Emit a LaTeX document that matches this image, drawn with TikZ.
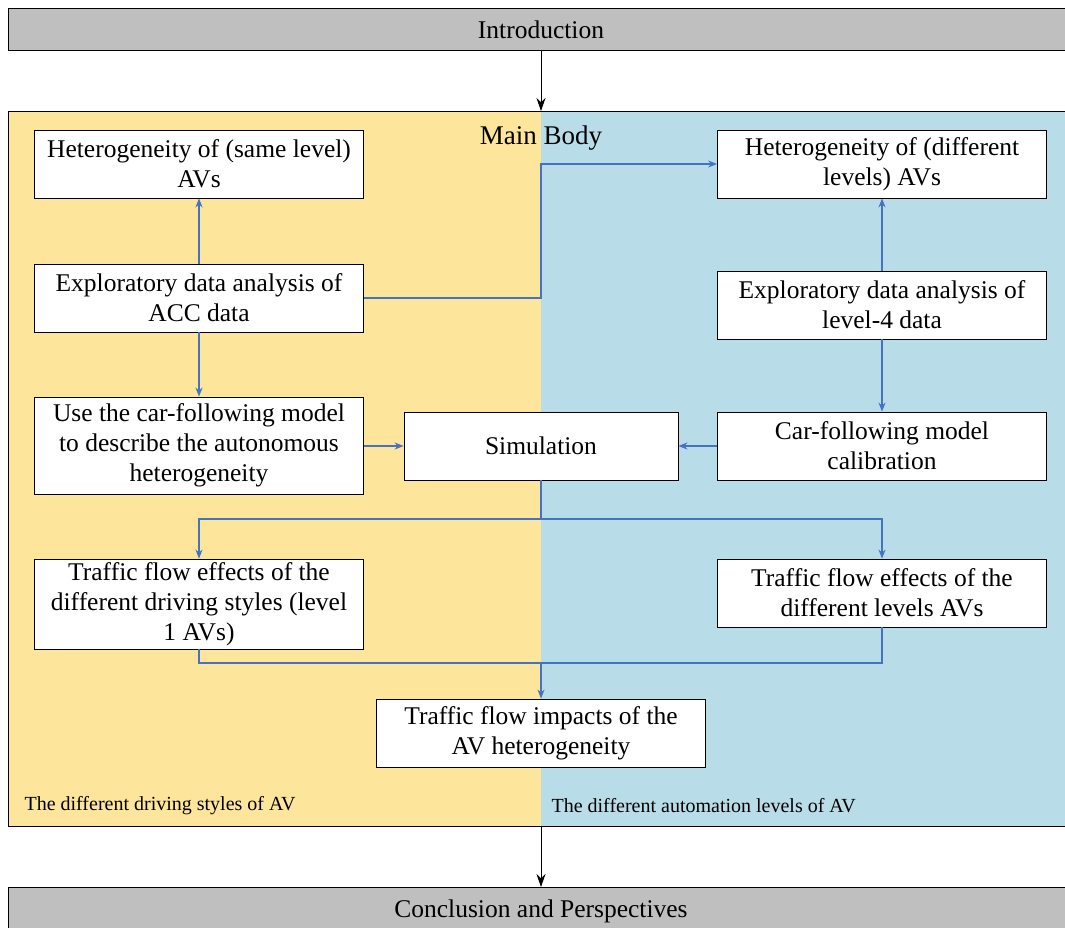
\documentclass[tikz,border=0pt]{standalone}
\usepackage{fontspec}
\setmainfont{Liberation Serif}
\usepackage{xcolor}
\usetikzlibrary{calc}
\usetikzlibrary{arrows.meta}
\definecolor{leftyellow}{RGB}{253,229,155}
\definecolor{rightblue}{RGB}{185,221,232}
\definecolor{bargray}{RGB}{191,191,191}
\definecolor{linkblue}{RGB}{68,114,196}
\tikzset{
  bar/.style={draw=black, thick, fill=bargray, inner sep=0},
  stagebox/.style={draw=black, thick, fill=white, inner sep=0, minimum width=329, align=center, font=\fontsize{25.5}{30}\selectfont},
  link/.style={linkblue, line width=1.8pt, -{Stealth[length=9pt,width=7pt]}},
  plain/.style={linkblue, line width=1.8pt},
  mainarrow/.style={black, thick, -{Stealth[length=13pt,width=9pt]}}
}

\begin{document}
\begin{tikzpicture}[x=1pt, y=-1pt]
\useasboundingbox (0,0) rectangle (1065,928);
% main body background
\fill[leftyellow] (8,111) rectangle (541,826);
\fill[rightblue] (541,111) rectangle (1065,826);
\draw[black,thick] (1066,111) -- (8,111) -- (8,826) -- (1066,826);
\node[font=\fontsize{27}{30}\selectfont] (mainbody) at (541,138) {Main Body};
\node[anchor=west, font=\fontsize{20}{24}\selectfont] (leftlabel) at (21,806) {The different driving styles of AV};
\node[anchor=west, font=\fontsize{20}{24}\selectfont] (rightlabel) at (548,806) {The different automation levels of AV};
% top and bottom bars
\node[bar, minimum width=1060, minimum height=42, anchor=north west] (intro) at (8,8) {};
\node (introtext) at (541,30) {\fontsize{25.5}{30}\selectfont Introduction};
\node[bar, minimum width=1060, minimum height=42, anchor=north west] (concl) at (8,887) {};
\node (concltext) at (541,911) {\fontsize{25.5}{30}\selectfont Conclusion and Perspectives};
\draw[mainarrow] (541,50) -- (541,111);
\draw[mainarrow] (541,826) -- (541,887);
% left column
\node[stagebox, minimum height=68] (samelevel) at (199,164) {Heterogeneity of (same level)\\AVs};
\node[stagebox, minimum height=68] (accdata) at (199,298) {Exploratory data analysis of\\ACC data};
\node[stagebox, minimum height=97] (cfmodel) at (199,445.5) {Use the car-following model\\to describe the autonomous\\heterogeneity};
\node[stagebox, minimum height=90] (styles) at (199,604) {Traffic flow effects of the\\different driving styles (level\\1 AVs)};
% right column
\node[stagebox, minimum height=68] (difflevel) at (882,164) {Heterogeneity of (different\\levels) AVs};
\node[stagebox, minimum height=68] (lvfour) at (882,305) {Exploratory data analysis of\\level-4 data};
\node[stagebox, minimum height=68] (calib) at (882,446) {Car-following model\\calibration};
\node[stagebox, minimum height=68] (levels) at (882,593) {Traffic flow effects of the\\different levels AVs};
% middle
\node[stagebox, minimum width=274, minimum height=68] (sim) at (541,446) {Simulation};
\node[stagebox, minimum height=68] (impact) at (541,733) {Traffic flow impacts of the\\AV heterogeneity};
% connectors
\draw[link] (accdata) -- (samelevel);
\draw[link] (accdata) -- (cfmodel);
\draw[link] (accdata.east) -- (541,298) |- (difflevel.west);
\draw[link] (lvfour) -- (difflevel);
\draw[link] (lvfour) -- (calib);
\draw[link] (cfmodel.east |- sim.west) -- (sim.west);
\draw[link] (calib.west) -- (sim.east);
\coordinate (split) at (541,519);
\coordinate (merge) at (541,663);
\draw[plain] (sim.south) -- (split);
\draw[link] (split) -| (styles.north);
\draw[link] (split) -| (levels.north);
\draw[plain] (styles.south) |- (merge);
\draw[plain] (levels.south) |- (merge);
\draw[link] (merge) -- (impact.north);
\end{tikzpicture}
\end{document}
